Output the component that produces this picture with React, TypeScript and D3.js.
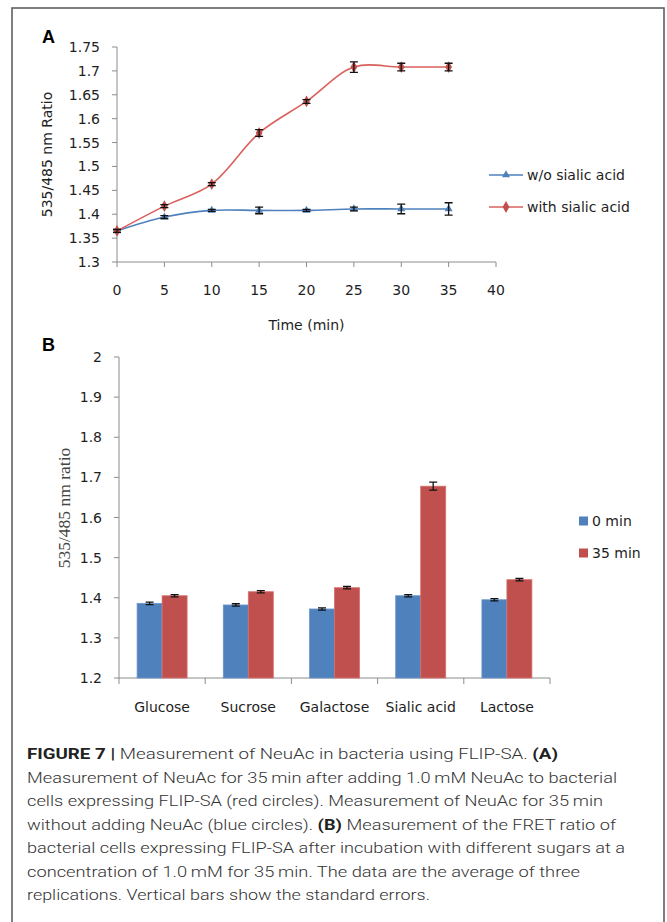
import { useEffect, useRef } from "react";
import * as d3 from "d3";

// panel A: time course
const times = [0, 5, 10, 15, 20, 25, 30, 35];
const withoutSA = [1.365, 1.394, 1.408, 1.408, 1.408, 1.411, 1.411, 1.411];
const withoutSAErr = [0.003, 0.003, 0.002, 0.007, 0.002, 0.004, 0.01, 0.013];
const withSA = [1.365, 1.417, 1.463, 1.57, 1.636, 1.708, 1.708, 1.708];
const withSAErr = [0.003, 0.003, 0.003, 0.007, 0.004, 0.011, 0.008, 0.008];
const xTicksA = [0, 5, 10, 15, 20, 25, 30, 35, 40];
const yTicksA = [1.3, 1.35, 1.4, 1.45, 1.5, 1.55, 1.6, 1.65, 1.7, 1.75];

// panel B: sugars
const sugars = ["Glucose", "Sucrose", "Galactose", "Sialic acid", "Lactose"];
const groups = ["0 min", "35 min"];
const min0 = [1.386, 1.382, 1.372, 1.405, 1.395];
const min0Err = [0.003, 0.003, 0.003, 0.003, 0.003];
const min35 = [1.405, 1.415, 1.425, 1.678, 1.445];
const min35Err = [0.003, 0.003, 0.003, 0.01, 0.003];
const yTicksB = [1.2, 1.3, 1.4, 1.5, 1.6, 1.7, 1.8, 1.9, 2];

const captionLines = [
  [["FIGURE 7 | ", true], ["Measurement of NeuAc in bacteria using FLIP-SA. ", false], ["(A)", true]],
  [["Measurement of NeuAc for 35\u2009min after adding 1.0\u2009mM NeuAc to bacterial", false]],
  [["cells expressing FLIP-SA (red circles). Measurement of NeuAc for 35\u2009min", false]],
  [["without adding NeuAc (blue circles). ", false], ["(B)", true], [" Measurement of the FRET ratio of", false]],
  [["bacterial cells expressing FLIP-SA after incubation with different sugars at a", false]],
  [["concentration of 1.0\u2009mM for 35\u2009min. The data are the average of three", false]],
  [["replications. Vertical bars show the standard errors.", false]],
] as [string, boolean][][];
const captionEnds = [558, 617, 603, 616, 625, 580, 430];

const BLUE = "#4f81bd";
const RED = "#c0504d";
const LINE_RED = "#d9605c";
const FONT = "DejaVu Sans";
const INK = "#1e1e1e";

export default function App() {
  const ref = useRef<SVGSVGElement>(null);

  useEffect(() => {
    if (!ref.current) return;
    const svg = d3.select(ref.current);
    svg.selectAll("*").remove();

    svg
      .append("rect")
      .attr("x", 12)
      .attr("y", 8)
      .attr("width", 652)
      .attr("height", 930)
      .attr("fill", "white")
      .attr("stroke", "#555")
      .attr("stroke-width", 1.5);

    // ---------- panel A ----------
    const xA = d3.scaleLinear().domain([0, 40]).range([117, 496]);
    const yA = d3.scaleLinear().domain([1.3, 1.75]).range([262, 47]);

    svg
      .append("text")
      .attr("x", 42)
      .attr("y", 43)
      .attr("font-family", "Liberation Sans")
      .attr("font-weight", "bold")
      .attr("font-size", 18)
      .text("A");

    const axA = svg.append("g").attr("font-family", FONT);
    axA
      .append("line")
      .attr("x1", xA(0))
      .attr("x2", xA(0))
      .attr("y1", yA(1.75))
      .attr("y2", yA(1.3))
      .attr("stroke", "#8c8c8c");
    axA
      .append("line")
      .attr("x1", xA(0))
      .attr("x2", xA(40))
      .attr("y1", yA(1.3))
      .attr("y2", yA(1.3))
      .attr("stroke", "#8c8c8c");
    yTicksA.forEach((t) => {
      axA
        .append("line")
        .attr("x1", xA(0) - 5)
        .attr("x2", xA(0))
        .attr("y1", yA(t))
        .attr("y2", yA(t))
        .attr("stroke", "#8c8c8c");
      axA
        .append("text")
        .attr("x", 100)
        .attr("y", yA(t))
        .attr("dy", "0.36em")
        .attr("text-anchor", "end")
        .attr("font-size", 14)
        .attr("fill", INK)
        .text(String(t));
    });
    xTicksA.forEach((t) => {
      axA
        .append("line")
        .attr("x1", xA(t))
        .attr("x2", xA(t))
        .attr("y1", yA(1.3))
        .attr("y2", yA(1.3) + 5)
        .attr("stroke", "#8c8c8c");
      axA
        .append("text")
        .attr("x", xA(t))
        .attr("y", 290)
        .attr("dy", "0.36em")
        .attr("text-anchor", "middle")
        .attr("font-size", 14)
        .attr("fill", INK)
        .text(String(t));
    });
    axA
      .append("text")
      .attr("x", (xA(0) + xA(40)) / 2)
      .attr("y", 325)
      .attr("dy", "0.36em")
      .attr("text-anchor", "middle")
      .attr("font-size", 14)
      .attr("fill", INK)
      .text("Time (min)");
    axA
      .append("text")
      .attr("transform", `translate(47,${(yA(1.3) + yA(1.75)) / 2}) rotate(-90)`)
      .attr("dy", "0.36em")
      .attr("text-anchor", "middle")
      .attr("font-size", 14)
      .attr("fill", INK)
      .text("535/485 nm Ratio");

    const line = d3
      .line<number>()
      .x((_d, i) => xA(times[i]))
      .y((d) => yA(d))
      .curve(d3.curveCatmullRom.alpha(0.5));

    const series = [
      { vals: withoutSA, err: withoutSAErr, color: BLUE, sym: d3.symbolTriangle, size: 28, name: "w/o sialic acid" },
      { vals: withSA, err: withSAErr, color: LINE_RED, sym: d3.symbolDiamond, size: 40, name: "with sialic acid" },
    ];

    series.forEach((s, si) => {
      const g = svg.append("g");
      g.append("path")
        .attr("d", line(s.vals))
        .attr("fill", "none")
        .attr("stroke", s.color)
        .attr("stroke-width", 1.6);
      s.vals.forEach((v, i) => {
        const x = xA(times[i]);
        g.append("path")
          .attr("transform", `translate(${x},${yA(v)})`)
          .attr("d", d3.symbol(s.sym, s.size)()!)
          .attr("fill", si === 0 ? BLUE : RED);
        const y1 = yA(v - s.err[i]);
        const y2 = yA(v + s.err[i]);
        g.append("path")
          .attr("d", `M${x},${y1}V${y2}M${x - 4},${y1}H${x + 4}M${x - 4},${y2}H${x + 4}`)
          .attr("stroke", "#111")
          .attr("stroke-width", 1.3)
          .attr("fill", "none");
      });

      const ly = 175 + si * 32;
      const lg = svg.append("g");
      lg.append("line")
        .attr("x1", 489)
        .attr("x2", 523)
        .attr("y1", ly)
        .attr("y2", ly)
        .attr("stroke", s.color)
        .attr("stroke-width", 1.6);
      lg.append("path")
        .attr("transform", `translate(506,${ly})`)
        .attr("d", d3.symbol(s.sym, s.size)()!)
        .attr("fill", si === 0 ? BLUE : RED);
      lg.append("text")
        .attr("x", 527)
        .attr("y", ly)
        .attr("dy", "0.36em")
        .attr("font-family", FONT)
        .attr("font-size", 14)
        .attr("fill", INK)
        .text(s.name);
    });

    // ---------- panel B ----------
    const xB = d3.scaleBand<string>().domain(sugars).range([119, 550]).padding(0);
    const inner = d3
      .scaleBand<string>()
      .domain(groups)
      .range([0, xB.bandwidth()])
      .paddingInner(0)
      .paddingOuter(0.724);
    const yB = d3.scaleLinear().domain([1.2, 2]).range([678, 357]);

    svg
      .append("text")
      .attr("x", 42)
      .attr("y", 351)
      .attr("font-family", "Liberation Sans")
      .attr("font-weight", "bold")
      .attr("font-size", 18)
      .text("B");

    const axB = svg.append("g").attr("font-family", FONT);
    axB
      .append("line")
      .attr("x1", 119)
      .attr("x2", 119)
      .attr("y1", yB(2))
      .attr("y2", yB(1.2))
      .attr("stroke", "#8c8c8c");
    axB
      .append("line")
      .attr("x1", 119)
      .attr("x2", 550)
      .attr("y1", yB(1.2))
      .attr("y2", yB(1.2))
      .attr("stroke", "#8c8c8c");
    yTicksB.forEach((t) => {
      axB
        .append("line")
        .attr("x1", 114)
        .attr("x2", 119)
        .attr("y1", yB(t))
        .attr("y2", yB(t))
        .attr("stroke", "#8c8c8c");
      axB
        .append("text")
        .attr("x", 102)
        .attr("y", yB(t))
        .attr("dy", "0.36em")
        .attr("text-anchor", "end")
        .attr("font-size", 14)
        .attr("fill", INK)
        .text(String(t));
    });
    const edges = sugars.map((c) => xB(c)!).concat([xB(sugars[sugars.length - 1])! + xB.bandwidth()]);
    edges.forEach((x) => {
      axB
        .append("line")
        .attr("x1", x)
        .attr("x2", x)
        .attr("y1", yB(1.2))
        .attr("y2", yB(1.2) + 6)
        .attr("stroke", "#8c8c8c");
    });
    sugars.forEach((c) => {
      axB
        .append("text")
        .attr("x", xB(c)! + xB.bandwidth() / 2)
        .attr("y", 707)
        .attr("dy", "0.36em")
        .attr("text-anchor", "middle")
        .attr("font-size", 14)
        .attr("fill", INK)
        .text(c);
    });
    svg
      .append("text")
      .attr("transform", `translate(64,508) rotate(-90)`)
      .attr("dy", "0.36em")
      .attr("text-anchor", "middle")
      .attr("font-family", "Liberation Serif")
      .attr("font-size", 17.5)
      .attr("fill", "#444")
      .text("535/485 nm ratio");

    const barSets = [
      { vals: min0, err: min0Err, fill: BLUE, stroke: "#6b96cc" },
      { vals: min35, err: min35Err, fill: RED, stroke: "#d6716e" },
    ];
    barSets.forEach((b, gi) => {
      const g = svg.append("g");
      sugars.forEach((c, i) => {
        const x = xB(c)! + inner(groups[gi])!;
        const w = inner.bandwidth();
        g.append("rect")
          .attr("x", x)
          .attr("y", yB(b.vals[i]))
          .attr("width", w)
          .attr("height", yB(1.2) - yB(b.vals[i]))
          .attr("fill", b.fill)
          .attr("stroke", b.stroke)
          .attr("stroke-width", 0.8);
        const cx = x + w / 2;
        const y1 = yB(b.vals[i] - b.err[i]);
        const y2 = yB(b.vals[i] + b.err[i]);
        g.append("path")
          .attr("d", `M${cx},${y1}V${y2}M${cx - 4},${y1}H${cx + 4}M${cx - 4},${y2}H${cx + 4}`)
          .attr("stroke", "#111")
          .attr("stroke-width", 1.3)
          .attr("fill", "none");
      });

      const ly = 521 + gi * 32;
      svg
        .append("rect")
        .attr("x", 579)
        .attr("y", ly - 4.5)
        .attr("width", 9)
        .attr("height", 9)
        .attr("fill", b.fill);
      svg
        .append("text")
        .attr("x", 592)
        .attr("y", ly)
        .attr("dy", "0.36em")
        .attr("font-family", FONT)
        .attr("font-size", 14)
        .attr("fill", INK)
        .text(groups[gi]);
    });

    // ---------- caption ----------
    const cap = svg
      .append("g")
      .attr("font-family", "Roboto, 'Liberation Sans', sans-serif")
      .attr("font-size", 15.5);
    captionLines.forEach((parts, li) => {
      const t = cap
        .append("text")
        .attr("x", 27)
        .attr("y", 759 + li * 23.5)
        .attr("textLength", captionEnds[li] - 27)
        .attr("lengthAdjust", "spacingAndGlyphs")
        .attr("xml:space", "preserve");
      parts.forEach(([s, bold]) => {
        t.append("tspan")
          .attr("font-weight", bold ? 700 : 300)
          .attr("fill", bold ? "#222" : "#333")
          .text(s);
      });
    });
  }, []);

  return (
    <svg
      ref={ref}
      width={667}
      height={922}
      style={{ position: "absolute", left: 0, top: 0, background: "white" }}
    />
  );
}
